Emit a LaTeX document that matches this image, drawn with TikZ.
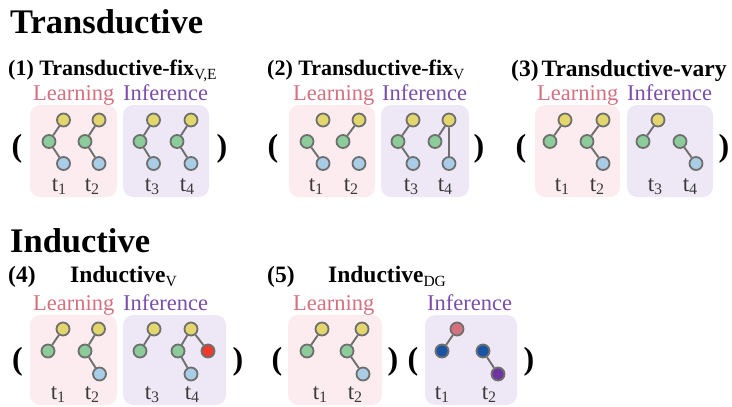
\documentclass[tikz,border=0pt]{standalone}
\usepackage{fontspec}
\setmainfont{Liberation Serif}
\definecolor{boxL}{HTML}{FCECEF}
\definecolor{boxI}{HTML}{EEE8F6}
\definecolor{txtL}{HTML}{D4707F}
\definecolor{txtI}{HTML}{7A4EAB}
\definecolor{cY}{HTML}{E3D66C}
\definecolor{cG}{HTML}{8CCB9A}
\definecolor{cB}{HTML}{A9CDE6}
\definecolor{cR}{HTML}{EE3A2C}
\definecolor{cPk}{HTML}{D6707E}
\definecolor{cDb}{HTML}{1A55A5}
\definecolor{cPu}{HTML}{6E35A0}
\definecolor{edgec}{HTML}{6F6F6F}
\definecolor{tcol}{HTML}{3A3A3A}
\newcommand\mysub[1]{\raisebox{-4.5pt}{\fontsize{15.5}{16}\selectfont\mdseries #1}}
\newcommand\tl[1]{t\raisebox{-3.5pt}{\fontsize{16}{16}\selectfont #1}}
\begin{document}
\begin{tikzpicture}[x=1pt,y=-1pt,
  gnode/.style={circle, draw=edgec, line width=1.8pt, minimum size=13pt, inner sep=0pt},
  nY/.style={gnode, fill=cY}, nG/.style={gnode, fill=cG}, nB/.style={gnode, fill=cB},
  nR/.style={gnode, fill=cR}, nPk/.style={gnode, fill=cPk}, nDb/.style={gnode, fill=cDb},
  nPu/.style={gnode, fill=cPu},
  ed/.style={draw=edgec, line width=1.9pt},
  bigtitle/.style={anchor=base west, inner sep=0pt, font=\fontsize{34.5}{36}\selectfont\bfseries},
  ptitle/.style={anchor=base west, inner sep=0pt, font=\fontsize{22}{24}\selectfont\bfseries},
  ititle/.style={anchor=base west, inner sep=0pt, font=\fontsize{23.5}{25}\selectfont\bfseries},
  lrn/.style={anchor=base west, inner sep=0pt, font=\fontsize{22.5}{24}\selectfont, text=txtL},
  inf/.style={anchor=base west, inner sep=0pt, font=\fontsize{22.5}{24}\selectfont, text=txtI},
  tlab/.style={anchor=base, inner sep=0pt, font=\fontsize{23}{24}\selectfont, text=tcol},
  par/.style={anchor=center, inner sep=0pt, font=\fontsize{32}{34}\selectfont\bfseries},
  lbox/.style={fill=boxL, rounded corners=10pt},
  ibox/.style={fill=boxI, rounded corners=10pt}]
\useasboundingbox (0,0) rectangle (732,407);

% ---------- titles ----------
\node[bigtitle] (T) at (10,33) {Transductive};
\node[bigtitle] (I) at (10,252) {Inductive};
\node[ptitle] (h1) at (8,75) {(1) Transductive-fix\mysub{V,E}};
\node[ptitle] (h2) at (267,75) {(2) Transductive-fix\mysub{V}};
\node[ititle] (h3) at (511,76) {(3)\hspace{3pt}Transductive-vary};
\node[ititle] (h4a) at (8,282) {(4)};
\node[ititle] (h4b) at (70,282) {Inductive\mysub{V}};
\node[ititle] (h5a) at (267,282) {(5)};
\node[ititle] (h5b) at (328,282) {Inductive\mysub{DG}};

% ---------- boxes ----------
\fill[lbox] (30,105) rectangle (117,197);
\fill[ibox] (123,105) rectangle (209,197);
\fill[lbox] (289,105) rectangle (375,197);
\fill[ibox] (381,105) rectangle (469,197);
\fill[lbox] (535,105) rectangle (620,197);
\fill[ibox] (627,105) rectangle (713,197);
\fill[lbox] (30,315) rectangle (117,405);
\fill[ibox] (123,315) rectangle (226,405);
\fill[lbox] (288,315) rectangle (382,405);
\fill[ibox] (425,315) rectangle (517,405);

% ---------- Learning / Inference ----------
\node[lrn] (l1) at (33,100) {Learning};
\node[inf] (i1) at (123,100) {Inference};
\node[lrn] (l2) at (293,100) {Learning};
\node[inf] (i2) at (382,100) {Inference};
\node[lrn] (l3) at (537,100) {Learning};
\node[inf] (i3) at (627,100) {Inference};
\node[lrn] (l4) at (33,310) {Learning};
\node[inf] (i4) at (123,310) {Inference};
\node[lrn] (l5) at (293,310) {Learning};
\node[inf] (i5) at (427,310) {Inference};

% ---------- parentheses ----------
\node[par] (po1) at (17,149) {(};
\node[par] (pc1) at (222,149) {)};
\node[par] (po2) at (273,149) {(};
\node[par] (pc2) at (479,149) {)};
\node[par] (po3) at (521,149) {(};
\node[par] (pc3) at (724,149) {)};
\node[par] (po4) at (17.5,362) {(};
\node[par] (pc4) at (238,362) {)};
\node[par] (po5) at (277,362) {(};
\node[par] (pc5) at (393,362) {)};
\node[par] (po6) at (413,362) {(};
\node[par] (pc6) at (529,362) {)};

% ---------- panel 1 ----------
\node[nY] (a1y) at (63.5,120) {}; \node[nG] (a1g) at (49,141.5) {}; \node[nB] (a1b) at (63.5,163.5) {};
\node[nY] (a2y) at (99,120) {};   \node[nG] (a2g) at (85,141.5) {};  \node[nB] (a2b) at (99,163.5) {};
\node[nY] (a3y) at (153.5,120) {};\node[nG] (a3g) at (140,141.5) {}; \node[nB] (a3b) at (153.5,163.5) {};
\node[nY] (a4y) at (191,120) {};  \node[nG] (a4g) at (177,141.5) {}; \node[nB] (a4b) at (191,163.5) {};
\draw[ed] (a1y) -- (a1g) -- (a1b);
\draw[ed] (a2y) -- (a2g) -- (a2b);
\draw[ed] (a3y) -- (a3g) -- (a3b);
\draw[ed] (a4y) -- (a4g) -- (a4b);
\node[tlab] (at1) at (59,191) {\tl{1}};
\node[tlab] (at2) at (92,191) {\tl{2}};
\node[tlab] (at3) at (152,191) {\tl{3}};
\node[tlab] (at4) at (187,191) {\tl{4}};

% ---------- panel 2 ----------
\node[nY] (b1y) at (323,120) {};  \node[nG] (b1g) at (307,141.5) {}; \node[nB] (b1b) at (323,163.5) {};
\node[nY] (b2y) at (359,120) {};  \node[nG] (b2g) at (343,141.5) {}; \node[nB] (b2b) at (359,163.5) {};
\node[nY] (b3y) at (413,120) {};  \node[nG] (b3g) at (398,141.5) {}; \node[nB] (b3b) at (413,163.5) {};
\node[nY] (b4y) at (449,120) {};  \node[nG] (b4g) at (435,141.5) {}; \node[nB] (b4b) at (449,163.5) {};
\draw[ed] (b1g) -- (b1b);
\draw[ed] (b2y) -- (b2g);
\draw[ed] (b3y) -- (b3g) -- (b3b);
\draw[ed] (b4g) -- (b4y) -- (b4b);
\node[tlab] (bt1) at (316,191) {\tl{1}};
\node[tlab] (bt2) at (351,191) {\tl{2}};
\node[tlab] (bt3) at (411,191) {\tl{3}};
\node[tlab] (bt4) at (445,191) {\tl{4}};

% ---------- panel 3 ----------
\node[nY] (c1y) at (565,120) {};  \node[nG] (c1g) at (550,141.5) {};
\node[nY] (c2y) at (603,120) {};  \node[nG] (c2g) at (587,141.5) {}; \node[nB] (c2b) at (603,163.5) {};
\node[nY] (c3y) at (658,120) {};  \node[nG] (c3g) at (643,141.5) {};
\node[nG] (c4g) at (680,141.5) {}; \node[nB] (c4b) at (696,163.5) {};
\draw[ed] (c1y) -- (c1g);
\draw[ed] (c2y) -- (c2g) -- (c2b);
\draw[ed] (c3y) -- (c3g);
\draw[ed] (c4g) -- (c4b);
\node[tlab] (ct1) at (562,191) {\tl{1}};
\node[tlab] (ct2) at (597,191) {\tl{2}};
\node[tlab] (ct3) at (655,191) {\tl{3}};
\node[tlab] (ct4) at (690,191) {\tl{4}};

% ---------- panel 4 ----------
\node[nY] (d1y) at (63,329) {};   \node[nG] (d1g) at (48,351) {};
\node[nY] (d2y) at (98.5,329) {}; \node[nG] (d2g) at (85,351) {}; \node[nB] (d2b) at (99.5,374) {};
\node[nY] (d3y) at (154,329) {};  \node[nG] (d3g) at (140,351) {};
\node[nY] (d4y) at (191,329) {};  \node[nG] (d4g) at (178,351) {}; \node[nR] (d4r) at (208,351) {}; \node[nB] (d4b) at (191,374) {};
\draw[ed] (d1y) -- (d1g);
\draw[ed] (d2y) -- (d2g) -- (d2b);
\draw[ed] (d3y) -- (d3g);
\draw[ed] (d4g) -- (d4y) -- (d4r);
\draw[ed] (d4g) -- (d4b);
\node[tlab] (dt1) at (58,399) {\tl{1}};
\node[tlab] (dt2) at (92,399) {\tl{2}};
\node[tlab] (dt3) at (152,399) {\tl{3}};
\node[tlab] (dt4) at (192,399) {\tl{4}};

% ---------- panel 5 ----------
\node[nY] (e1y) at (322,329) {};  \node[nG] (e1g) at (307,351) {};
\node[nY] (e2y) at (362,329) {};  \node[nG] (e2g) at (347,351) {}; \node[nB] (e2b) at (363,374) {};
\node[nPk] (f1p) at (457,329) {}; \node[nDb] (f1d) at (442,351) {};
\node[nDb] (f2d) at (483,351) {}; \node[nPu] (f2p) at (498,374) {};
\draw[ed] (e1y) -- (e1g);
\draw[ed] (e2y) -- (e2g) -- (e2b);
\draw[ed] (f1p) -- (f1d);
\draw[ed] (f2d) -- (f2p);
\node[tlab] (et1) at (320,399) {\tl{1}};
\node[tlab] (et2) at (355,399) {\tl{2}};
\node[tlab] (ft1) at (442,399) {\tl{1}};
\node[tlab] (ft2) at (489,399) {\tl{2}};
\end{tikzpicture}
\end{document}
